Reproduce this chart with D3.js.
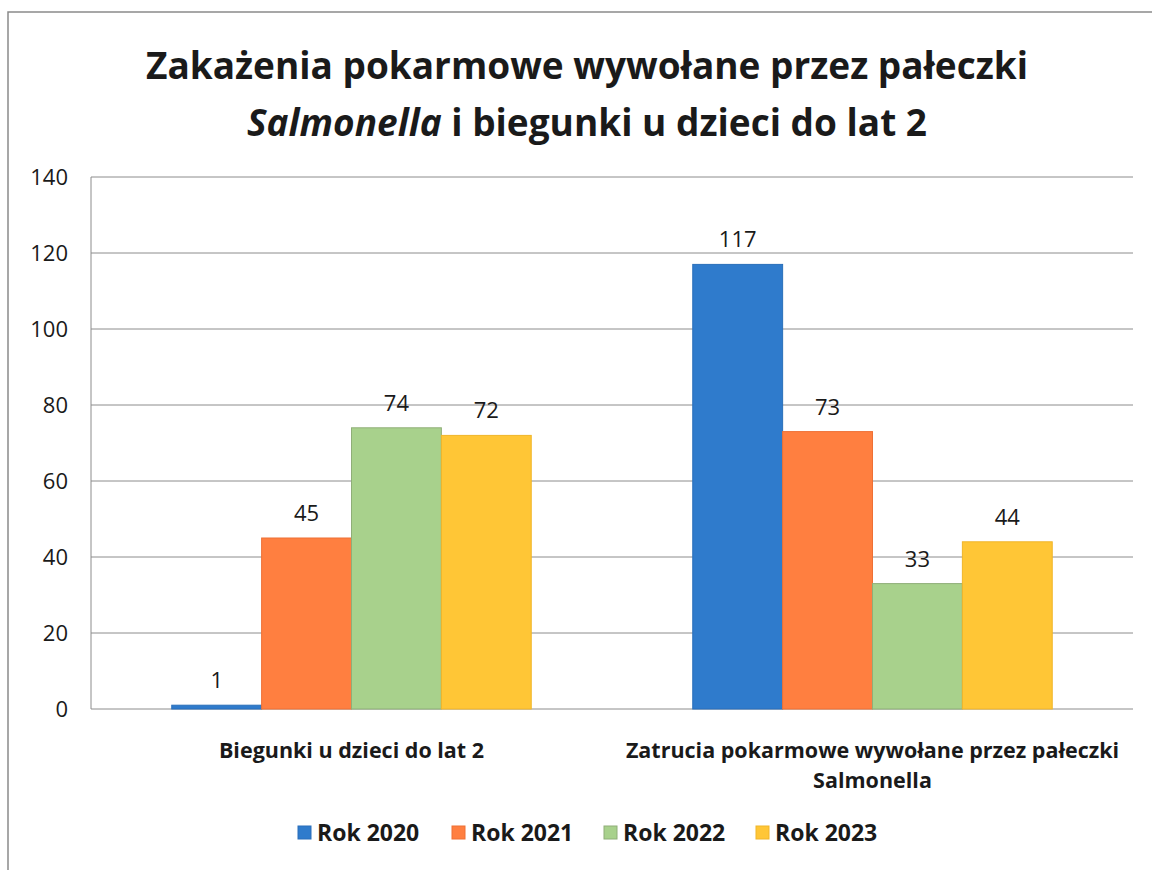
<!DOCTYPE html>
<html>
<head>
<meta charset="utf-8">
<script src="https://cdn.jsdelivr.net/npm/d3@7"></script>
<style>
  html, body { margin: 0; padding: 0; background: #ffffff; }
  #chart { width: 1152px; height: 870px; }
  text { font-family: "Open Sans", "Noto Sans", sans-serif; fill: #1a1a1a; }
</style>
</head>
<body>
<div id="chart"></div>
<script>
// --- dane ---
const categories = ["Biegunki u dzieci do lat 2", "Zatrucia pokarmowe wywołane przez pałeczki Salmonella"];
const categoryLines = [["Biegunki u dzieci do lat 2"], ["Zatrucia pokarmowe wywołane przez pałeczki", "Salmonella"]];
const seriesNames = ["Rok 2020", "Rok 2021", "Rok 2022", "Rok 2023"];
const seriesColors = ["#2f7bcc", "#ff7f40", "#a8d18c", "#ffc636"];
const seriesStroke = ["#2a6fba", "#ee7035", "#8fae78", "#f0b52a"];
const values2020 = [1, 117];
const values2021 = [45, 73];
const values2022 = [74, 33];
const values2023 = [72, 44];
const yTicks = [0, 20, 40, 60, 80, 100, 120, 140];

const seriesValues = [values2020, values2021, values2022, values2023];

// --- płótno ---
const width = 1152, height = 870;
const svg = d3.select("#chart").append("svg")
    .attr("width", width)
    .attr("height", height)
    .attr("viewBox", `0 0 ${width} ${height}`);

// ramka wykresu (skan)
svg.append("path")
    .attr("d", `M8,${height} L8,12 L${width},12`)
    .attr("fill", "none")
    .attr("stroke", "#8a8a8a")
    .attr("stroke-width", 1.5);

// tytuł
const title = svg.append("text")
    .attr("x", 587)
    .attr("text-anchor", "middle")
    .style("font-size", "37px")
    .style("font-weight", "bold");
title.append("tspan").attr("x", 587).attr("y", 79).text("Zakażenia pokarmowe wywołane przez pałeczki");
const t2 = title.append("tspan").attr("x", 587).attr("y", 136);
t2.append("tspan").style("font-style", "italic").text("Salmonella");
t2.append("tspan").text(" i biegunki u dzieci do lat 2");

// --- skale ---
const plot = { left: 91, right: 1133, top: 177, bottom: 709 };

const x0 = d3.scaleBand()
    .domain(categories)
    .range([plot.left, plot.right]);

const groupWidth = x0.bandwidth() * 0.69;
const x1 = d3.scaleBand()
    .domain(seriesNames)
    .range([0, groupWidth]);

const y = d3.scaleLinear()
    .domain([0, 140])
    .range([plot.bottom, plot.top]);

// siatka
svg.append("g")
    .selectAll("line")
    .data(yTicks)
    .join("line")
    .attr("x1", plot.left)
    .attr("x2", plot.right)
    .attr("y1", d => y(d))
    .attr("y2", d => y(d))
    .attr("stroke", "#8c8c8c")
    .attr("stroke-width", 1);

svg.append("line")
    .attr("x1", plot.left).attr("x2", plot.left)
    .attr("y1", plot.top).attr("y2", plot.bottom)
    .attr("stroke", "#8c8c8c");

// oś Y
const yAxis = svg.append("g")
    .attr("transform", `translate(${plot.left},0)`)
    .call(d3.axisLeft(y).tickValues(yTicks).tickSize(0).tickPadding(23));
yAxis.select(".domain").remove();
yAxis.selectAll("text")
    .style("font-size", "22px")
    .style("font-family", "\"Open Sans\", sans-serif")
    .attr("fill", "#1a1a1a");

// słupki
const rows = [];
categories.forEach((c, ci) => {
    seriesNames.forEach((s, si) => {
        rows.push({ cat: c, series: s, si: si, value: seriesValues[si][ci] });
    });
});

const barX = d => x0(d.cat) + (x0.bandwidth() - groupWidth) / 2 + x1(d.series);

svg.append("g")
    .selectAll("rect")
    .data(rows)
    .join("rect")
    .attr("x", barX)
    .attr("y", d => y(d.value))
    .attr("width", x1.bandwidth())
    .attr("height", d => y(0) - y(d.value))
    .attr("fill", d => seriesColors[d.si])
    .attr("stroke", d => seriesStroke[d.si])
    .attr("stroke-width", 1);

// etykiety wartości
svg.append("g")
    .selectAll("text")
    .data(rows)
    .join("text")
    .attr("x", d => barX(d) + x1.bandwidth() / 2)
    .attr("y", d => y(d.value) - 17)
    .attr("text-anchor", "middle")
    .style("font-size", "22px")
    .text(d => d.value);

// etykiety kategorii
categories.forEach((c, ci) => {
    const t = svg.append("text")
        .attr("text-anchor", "middle")
        .style("font-size", "21.5px")
        .style("font-weight", "bold");
    categoryLines[ci].forEach((line, li) => {
        t.append("tspan")
            .attr("x", x0(c) + x0.bandwidth() / 2)
            .attr("y", 758 + li * 30)
            .text(line);
    });
});

// legenda
const legendX = [298, 452, 604, 756];
const legend = svg.append("g").attr("transform", "translate(0,833)");
seriesNames.forEach((s, i) => {
    legend.append("rect")
        .attr("x", legendX[i])
        .attr("y", -7)
        .attr("width", 13)
        .attr("height", 13)
        .attr("fill", seriesColors[i])
        .attr("stroke", seriesStroke[i]);
    legend.append("text")
        .attr("x", legendX[i] + 19)
        .attr("y", 8)
        .style("font-size", "23px")
        .style("font-weight", "bold")
        .text(s);
});
</script>
</body>
</html>
